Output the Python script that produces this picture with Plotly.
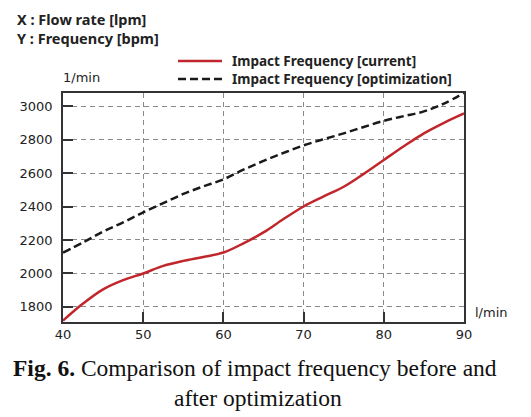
import plotly.graph_objects as go

flow_rate = [40, 42.5, 45, 47.5, 50, 52.5, 55, 57.5, 60, 62.5, 65, 67.5, 70,
             72.5, 75, 77.5, 80, 82.5, 85, 87.5, 90]
freq_current = [1718, 1820, 1905, 1960, 2000, 2045, 2075, 2098, 2125, 2180, 2245,
                2325, 2400, 2460, 2518, 2595, 2678, 2760, 2837, 2900, 2956]
freq_optimization = [2125, 2185, 2250, 2305, 2365, 2420, 2475, 2520, 2562, 2620,
                     2672, 2720, 2765, 2802, 2837, 2875, 2912, 2940, 2968, 3015, 3078]
x_ticks = [40, 50, 60, 70, 80, 90]
y_ticks = [1800, 2000, 2200, 2400, 2600, 2800, 3000]
series_names = ["Impact Frequency [current]", "Impact Frequency [optimization]"]

W, H = 531, 417
L, R, T, B = 63, 67, 93, 95
pw, ph = W - L - R, H - T - B


def px(xp):
    return (xp - L) / pw


def py(yp):
    return (H - B - yp) / ph


RED = "#c0262b"
BLACK = "#1a1a1a"

fig = go.Figure()
fig.add_trace(go.Scatter(
    x=flow_rate, y=freq_current, mode="lines", line_shape="spline",
    name=series_names[0], line=dict(color=RED, width=2.5)))
fig.add_trace(go.Scatter(
    x=flow_rate, y=freq_optimization, mode="lines", line_shape="spline",
    name=series_names[1], line=dict(color=BLACK, width=2.5, dash="8px,4px")))

axis_common = dict(
    showgrid=True, gridcolor="#8a8a8a", griddash="5px,4px", gridwidth=1,
    showline=True, linecolor="#333333", linewidth=1.5, mirror=True,
    ticks="inside", ticklen=10, tickcolor="#333333", tickwidth=1.5,
    tickfont=dict(family="DejaVu Sans", size=13, color="#222222"),
    zeroline=False,
)

fig.update_layout(
    width=W, height=H,
    margin=dict(l=L, r=R, t=T, b=B),
    paper_bgcolor="white", plot_bgcolor="white",
    xaxis=dict(range=[40, 90], tickvals=x_ticks, **axis_common),
    yaxis=dict(range=[1710, 3078], tickvals=y_ticks, ticklabelstandoff=6, **axis_common),
    showlegend=False,
)

# manual legend
legend_rows = [(61, RED, "solid", series_names[0]), (79, BLACK, "8px,4px", series_names[1])]
for yp, col, dash, name in legend_rows:
    fig.add_shape(type="line", xref="paper", yref="paper",
                  x0=px(178), x1=px(222), y0=py(yp), y1=py(yp),
                  line=dict(color=col, width=2.5, dash=dash))
    fig.add_annotation(text="<b>" + name + "</b>", x=px(231), y=py(yp),
                       xref="paper", yref="paper", showarrow=False,
                       xanchor="left", yanchor="middle", borderpad=0,
                       font=dict(family="Noto Sans", size=13.5, color="#222222"))

annotations = [
    dict(text="<b>X : Flow rate [lpm]</b>", x=px(16), y=py(19)),
    dict(text="<b>Y : Frequency [bpm]</b>", x=px(16), y=py(38)),
]
for a in annotations:
    a.update(xref="paper", yref="paper", xanchor="left", yanchor="middle",
             showarrow=False, borderpad=0,
             font=dict(family="Noto Sans", size=14.5, color="#222222"))
    fig.add_annotation(**a)

fig.add_annotation(text="1/min", x=px(81), y=py(78), xref="paper", yref="paper",
                   showarrow=False, xanchor="center", yanchor="middle", borderpad=0,
                   font=dict(family="DejaVu Sans", size=13, color="#222222"))
fig.add_annotation(text="l/min", x=px(474), y=py(312), xref="paper", yref="paper",
                   showarrow=False, xanchor="left", yanchor="middle", borderpad=0,
                   font=dict(family="DejaVu Sans", size=13, color="#222222"))

fig.add_annotation(text="<b>Fig. 6.</b> Comparison of impact frequency before and",
                   x=px(255), y=py(368), xref="paper", yref="paper",
                   showarrow=False, xanchor="center", yanchor="middle", borderpad=0,
                   font=dict(family="Liberation Serif", size=23.5, color="#111111"))
fig.add_annotation(text="after optimization",
                   x=px(258), y=py(398), xref="paper", yref="paper",
                   showarrow=False, xanchor="center", yanchor="middle", borderpad=0,
                   font=dict(family="Liberation Serif", size=23.5, color="#111111"))

fig.write_html("out.html", config={"displayModeBar": False},
               post_script="document.body.style.margin='0';")
